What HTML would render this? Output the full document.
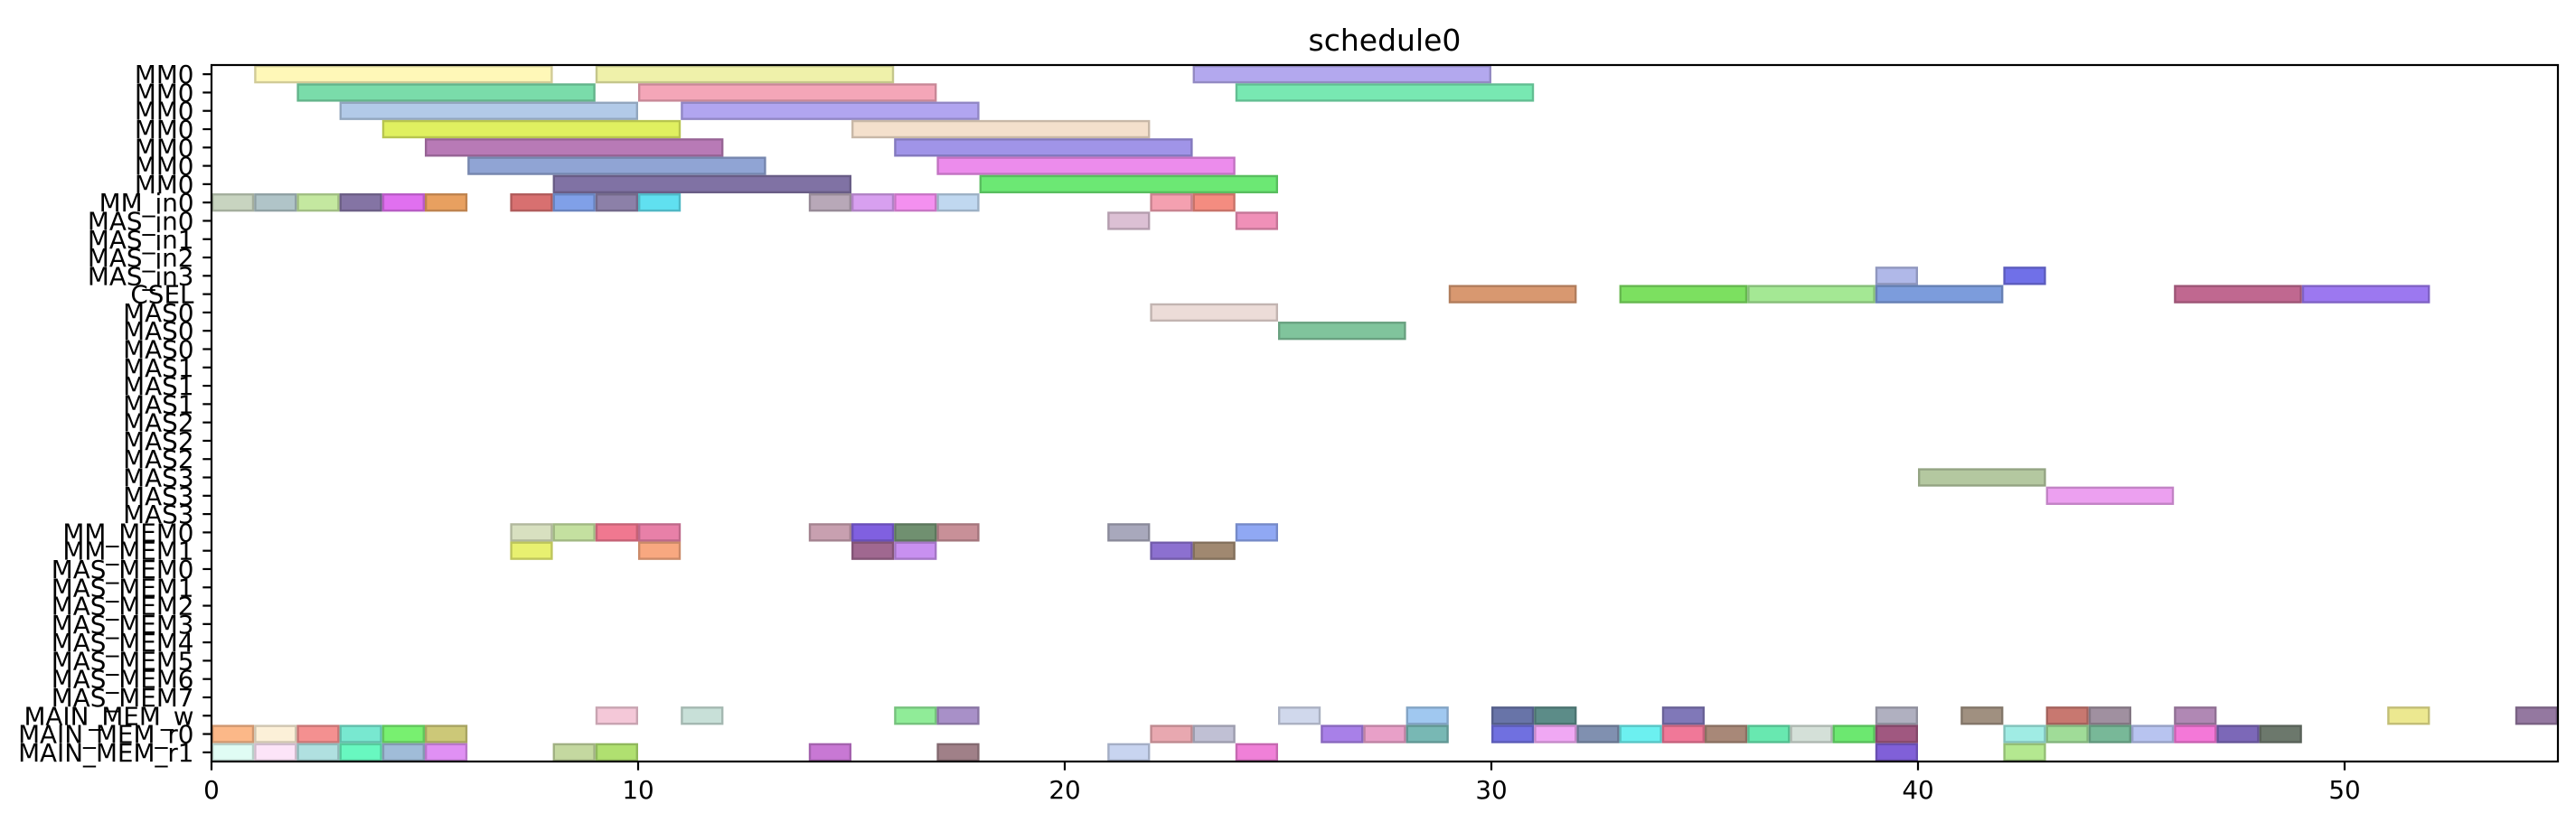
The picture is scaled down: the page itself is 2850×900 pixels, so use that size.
<!DOCTYPE html>
<html><head><meta charset="utf-8">
<style>
html,body{margin:0;padding:0;background:#fff;}
svg{display:block;font-family:"DejaVu Sans","Liberation Sans",sans-serif;}
</style></head>
<body>
<svg id="chart" width="2850" height="900" viewBox="0 0 2850 900" xmlns="http://www.w3.org/2000/svg">
<rect width="2850" height="900" fill="#fff"/>
<text x="1532" y="56" font-size="33" text-anchor="middle" fill="#000">schedule0</text>
<g id="bars"></g>
<g id="yaxis"></g>
<g id="xaxis"></g>
<rect x="234" y="72" width="2596" height="771" fill="none" stroke="#000" stroke-width="2.2"/>
</svg>
<script>
const rowLabels = ["MM0","MM0","MM0","MM0","MM0","MM0","MM0","MM_in0","MAS_in0","MAS_in1","MAS_in2","MAS_in3","CSEL","MAS0","MAS0","MAS0","MAS1","MAS1","MAS1","MAS2","MAS2","MAS2","MAS3","MAS3","MAS3","MM_MEM0","MM_MEM1","MAS_MEM0","MAS_MEM1","MAS_MEM2","MAS_MEM3","MAS_MEM4","MAS_MEM5","MAS_MEM6","MAS_MEM7","MAIN_MEM_w","MAIN_MEM_r0","MAIN_MEM_r1"];
const xTicks = [0,10,20,30,40,50];
const barRows = [
0,0,0, 1,1,1, 2,2, 3,3, 4,4, 5,5, 6,6,
7,7,7,7,7,7,7,7,7,7,7,7,7,7,7,7,
8,8, 11,11, 12,12,12,12,12,12, 13, 14, 22, 23,
25,25,25,25,25,25,25,25,25,25,
26,26,26,26,26,26,
35,35,35,35,35,35,35,35,35,35,35,35,35,35,35,35,
36,36,36,36,36,36,36,36,36,36,36,36,36,36,36,36,36,36,36,36,36,36,36,36,36,36,36,36,
37,37,37,37,37,37,37,37,37,37,37,37,37,37];
const barStarts = [
1,9,23, 2,10,24, 3,11, 4,15, 5,16, 6,17, 8,18,
0,1,2,3,4,5,7,8,9,10,14,15,16,17,22,23,
21,24, 39,42, 29,33,36,39,46,49, 22, 25, 40, 43,
7,8,9,10,14,15,16,17,21,24,
7,10,15,16,22,23,
9,11,16,17,25,28,30,31,34,39,41,43,44,46,51,54,
0,1,2,3,4,5,22,23,26,27,28,30,31,32,33,34,35,36,37,38,39,42,43,44,45,46,47,48,
0,1,2,3,4,5,8,9,14,17,21,24,39,42];
const barDurations = [
7,7,7, 7,7,7, 7,7, 7,7, 7,7, 7,7, 7,7,
1,1,1,1,1,1,1,1,1,1,1,1,1,1,1,1,
1,1, 1,1, 3,3,3,3,3,3, 3, 3, 3, 3,
1,1,1,1,1,1,1,1,1,1,
1,1,1,1,1,1,
1,1,1,1,1,1,1,1,1,1,1,1,1,1,1,1,
1,1,1,1,1,1,1,1,1,1,1,1,1,1,1,1,1,1,1,1,1,1,1,1,1,1,1,1,
1,1,1,1,1,1,1,1,1,1,1,1,1,1];
const barColors = [
"#fff8b8","#eff1aa","#b3a8ee", "#7adcaa","#f4a6b8","#78e8b2", "#b2cae8","#b1a5f0", "#e0f060","#f4e0cc", "#b87ab6","#a094e8", "#90a4d4","#ec8cec", "#8072a4","#6ce874",
"#c8d4c0","#b0c4c8","#c4e8a0","#8474a4","#e070f0","#e8a060","#d87070","#80a0e8","#8c80a8","#60e0f0","#b8a8b8","#d8a0f0","#f490f0","#c0d8f0","#f4a0b0","#f48c80",
"#dcc0d4","#f090b8", "#b0b8e8","#7070e8", "#d89870","#7ce060","#a4e894","#7c9cdc","#c06890","#9c78f0", "#ecdcd8", "#80c49c", "#b4c8a0", "#eca0f0",
"#d8e0c0","#c4e0a0","#f07890","#e880a8","#c8a0b0","#8060e0","#709070","#c89098","#a8a8bc","#90a8f4",
"#e8f070","#f8a880","#a06890","#c890f0","#8c70d0","#a08870",
"#f4c8d8","#c8e0d8","#90ec98","#a890c8","#d0d8ec","#a0c8f0","#6874a8","#5c8c88","#8078b8","#b0b0c0","#a09080","#c87870","#a090a0","#b088b4","#ece890","#9478a0",
"#fcb888","#fcf0d8","#f49090","#78e8d0","#78f070","#ccc878","#e8a8b0","#c0c0d4","#a880e8","#e8a0c8","#78b8b4","#7070e0","#f0a8f4","#8090b0","#6cf0f0","#f07898","#a88878","#68e8b0","#d4e0d8","#6ce870","#a05880","#a0ece4","#a0dc98","#78b898","#b8c4f0","#f478d8","#7c68b8","#6c786c",
"#e0fcf4","#fce4f8","#b0e0e0","#68f8c0","#a0bcd8","#e090f4","#c4d8a0","#b0e070","#c878d4","#a08088","#c8d4f0","#f080d8","#8060d8","#b4e890"];

const NS = "http://www.w3.org/2000/svg";
const X0 = 234, X1 = 2830, Y0 = 72, Y1 = 843, XMAX = 55;
const rowH = (Y1 - Y0) / rowLabels.length;
function xScale(v){ return X0 + (X1 - X0) * v / XMAX; }
function yScale(r){ return Y0 + r * rowH; }
function darker(hex){
  const n = parseInt(hex.slice(1),16);
  const f = c => Math.round(c*0.82).toString(16).padStart(2,'0');
  return '#' + f((n>>16)&255) + f((n>>8)&255) + f(n&255);
}
const gb = document.getElementById('bars');
for (let i = 0; i < barRows.length; i++) {
  const r = document.createElementNS(NS,'rect');
  const x = xScale(barStarts[i]);
  const w = xScale(barStarts[i] + barDurations[i]) - x;
  r.setAttribute('x', x + 1.2);
  r.setAttribute('y', yScale(barRows[i]) + 1.2);
  r.setAttribute('width', w - 2.4);
  r.setAttribute('height', rowH - 2.4);
  r.setAttribute('fill', barColors[i]);
  r.setAttribute('stroke', darker(barColors[i]));
  r.setAttribute('stroke-width', '2.4');
  
  
  gb.appendChild(r);
}
const gy = document.getElementById('yaxis');
rowLabels.forEach((lab, i) => {
  const cy = yScale(i) + rowH / 2;
  const t = document.createElementNS(NS,'line');
  t.setAttribute('x1', X0 - 9.7); t.setAttribute('x2', X0);
  t.setAttribute('y1', cy); t.setAttribute('y2', cy);
  t.setAttribute('stroke', '#000'); t.setAttribute('stroke-width', '2.2');
  
  
  gy.appendChild(t);
  const tx = document.createElementNS(NS,'text');
  tx.setAttribute('x', X0 - 19.5); tx.setAttribute('y', cy + 10);
  tx.setAttribute('font-size', '27.8'); tx.setAttribute('text-anchor', 'end');
  tx.textContent = lab;
  
  
  gy.appendChild(tx);
});
const gx = document.getElementById('xaxis');
xTicks.forEach(v => {
  const x = xScale(v);
  const t = document.createElementNS(NS,'line');
  t.setAttribute('x1', x); t.setAttribute('x2', x);
  t.setAttribute('y1', Y1); t.setAttribute('y2', Y1 + 9.7);
  t.setAttribute('stroke', '#000'); t.setAttribute('stroke-width', '2.2');
  
  
  gx.appendChild(t);
  const tx = document.createElementNS(NS,'text');
  tx.setAttribute('x', x); tx.setAttribute('y', Y1 + 41);
  tx.setAttribute('font-size', '27.8'); tx.setAttribute('text-anchor', 'middle');
  tx.textContent = v;
  
  
  gx.appendChild(tx);
});
</script>
</body></html>
